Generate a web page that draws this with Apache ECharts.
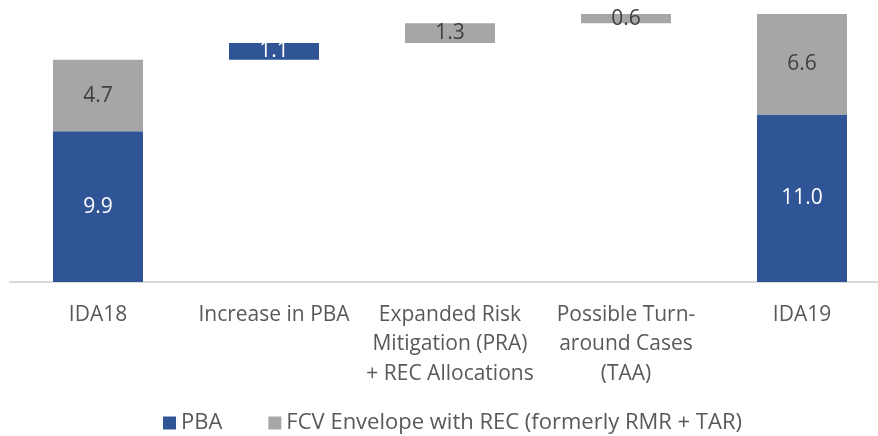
<!DOCTYPE html>
<html>
<head>
<meta charset="utf-8">
<script src="https://cdn.jsdelivr.net/npm/echarts@6/dist/echarts.min.js"></script>
<style>
  html, body { margin: 0; padding: 0; background: #fff; }
  #chart { width: 878px; height: 436px; }
</style>
</head>
<body>
<div id="chart"></div>
<script>
const categories = ['IDA18', 'Increase in PBA', 'Expanded Risk\nMitigation (PRA)\n+ REC Allocations', 'Possible Turn-\naround Cases\n(TAA)', 'IDA19']
// '-' = no bar for that series
const pbaValues = [9.9, 1.1, '-', '-', 11.0]
const fcvValues = [4.7, '-', 1.3, 0.6, 6.6]
const isTotal = [true, false, false, false, true]

// invisible base under the floating steps
const baseValues = []
let running = 0
categories.forEach((c, i) => {
  const p = pbaValues[i] === '-' ? 0 : pbaValues[i]
  const f = fcvValues[i] === '-' ? 0 : fcvValues[i]
  if (isTotal[i]) {
    baseValues.push(0)
    running = p + f
  } else {
    baseValues.push(+running.toFixed(1))
    running += p + f
  }
})

const FONT = 'Open Sans'
const chart = echarts.init(document.getElementById('chart'))

chart.setOption({
  animation: false,
  textStyle: { fontFamily: FONT },
  legend: {
    left: 158,
    top: 407,
    icon: 'rect',
    itemWidth: 13,
    itemHeight: 13,
    itemGap: 46,
    data: ['PBA', 'FCV Envelope with REC (formerly RMR + TAR)'],
    textStyle: { color: '#595959', fontSize: 22, fontFamily: FONT }
  },
  grid: {
    left: 10,
    top: 8,
    width: 880,
    height: 274,
    outerBoundsMode: 'none',
    containLabel: false
  },
  xAxis: {
    type: 'category',
    data: categories,
    axisTick: { show: false },
    axisLine: { lineStyle: { color: '#D9D9D9', width: 2 } },
    axisLabel: {
      color: '#595959',
      fontSize: 21,
      lineHeight: 29.5,
      margin: 18,
      interval: 0,
      fontFamily: FONT
    }
  },
  yAxis: {
    type: 'value',
    min: 0,
    max: 18,
    show: false,
    splitLine: { show: false }
  },
  series: [
    {
      name: 'base',
      type: 'bar',
      stack: 'w',
      barWidth: 90,
      silent: true,
      itemStyle: { color: 'transparent' },
      data: baseValues
    },
    {
      name: 'PBA',
      type: 'bar',
      stack: 'w',
      barWidth: 90,
      itemStyle: { color: '#2F5597' },
      label: {
        show: true,
        position: 'inside',
        color: '#fff',
        fontSize: 21,
        fontFamily: FONT,
        formatter: p => Number(p.value).toFixed(1)
      },
      data: pbaValues
    },
    {
      name: 'FCV Envelope with REC (formerly RMR + TAR)',
      type: 'bar',
      stack: 'w',
      barWidth: 90,
      itemStyle: { color: '#A6A6A6' },
      label: {
        show: true,
        position: 'inside',
        color: '#404040',
        fontSize: 21,
        fontFamily: FONT,
        formatter: p => Number(p.value).toFixed(1)
      },
      data: fcvValues
    }
  ]
})
</script>
</body>
</html>
